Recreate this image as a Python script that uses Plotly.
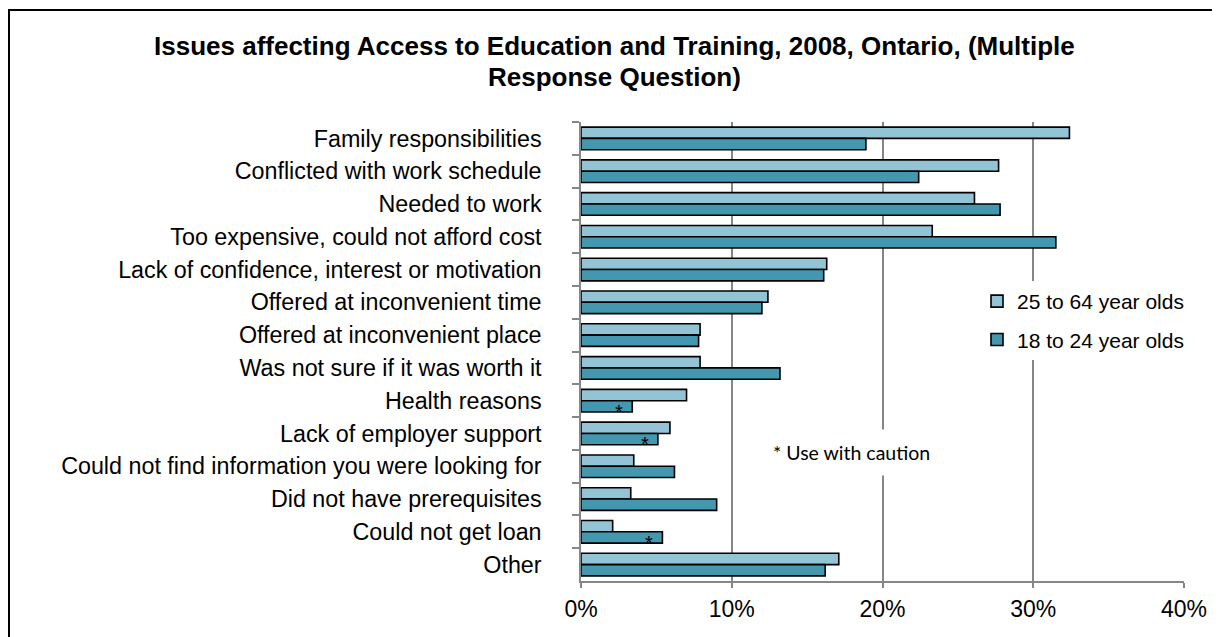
import plotly.graph_objects as go

categories = [
    "Family responsibilities",
    "Conflicted with work schedule",
    "Needed to work",
    "Too expensive, could not afford cost",
    "Lack of confidence, interest or motivation",
    "Offered at inconvenient time",
    "Offered at inconvenient place",
    "Was not sure if it was worth it",
    "Health reasons",
    "Lack of employer support",
    "Could not find information you were looking for",
    "Did not have prerequisites",
    "Could not get loan",
    "Other",
]
adults_25_64 = [32.4, 27.7, 26.1, 23.3, 16.3, 12.4, 7.9, 7.9, 7.0, 5.9, 3.5, 3.3, 2.1, 17.1]
youth_18_24 = [18.9, 22.4, 27.8, 31.5, 16.1, 12.0, 7.8, 13.2, 3.4, 5.1, 6.2, 9.0, 5.4, 16.2]
caution_18_24 = [False, False, False, False, False, False, False, False,
                 True, True, False, False, True, False]
series_names = ["25 to 64 year olds", "18 to 24 year olds"]
x_ticks = [0, 10, 20, 30, 40]
x_tick_labels = ["0%", "10%", "20%", "30%", "40%"]

FONT = "Liberation Sans, Arial, sans-serif"
GRAY = "#868686"
LIGHT = "#92C4D5"
DARK = "#4397AE"

# The page body has an 8px margin; the figure is sized to fill the rest of the window.
OFF = 8
W, H = 1220 - OFF, 637 - OFF
L, T = 581 - OFF, 122 - OFF
R = W - (1184 - OFF)
B = H - (581 - OFF)
PW, PH = W - L - R, H - T - B


def px(x):
    """page pixel x -> paper coordinate"""
    return (x - OFF - L) / PW


def py(y):
    """page pixel y -> paper coordinate"""
    return (H - B - (y - OFF)) / PH


fig = go.Figure()
fig.add_trace(go.Bar(
    y=categories, x=adults_25_64, orientation="h", name=series_names[0],
    legendgroup="a", marker=dict(color=LIGHT, line=dict(color="black", width=1.6)),
))
fig.add_trace(go.Bar(
    y=categories, x=youth_18_24, orientation="h", name=series_names[1],
    legendgroup="b", marker=dict(color=DARK, line=dict(color="black", width=1.6)),
))

annotations = []
for cat, val, flag in zip(categories, youth_18_24, caution_18_24):
    if flag:
        annotations.append(dict(
            x=val, y=cat, xref="x", yref="y", text="*", showarrow=False,
            xshift=-13, yshift=-11, font=dict(family=FONT, size=20, color="black"),
        ))

annotations += [
    dict(x=px(614), y=py(46), xref="paper", yref="paper", xanchor="center", yanchor="middle",
         text="<b>Issues affecting Access to Education and Training, 2008, Ontario, (Multiple</b>",
         showarrow=False, font=dict(family=FONT, size=26, color="black")),
    dict(x=px(614), y=py(77), xref="paper", yref="paper", xanchor="center", yanchor="middle",
         text="<b>Response Question)</b>",
         showarrow=False, font=dict(family=FONT, size=26, color="black")),
    dict(x=px(851), y=py(452), xref="paper", yref="paper", xanchor="center", yanchor="middle",
         text="* Use with caution", showarrow=False, bgcolor="white", borderpad=11,
         font=dict(family="Lato, Open Sans, sans-serif", size=19.5, color="black")),
]

fig.update_layout(
    width=W, height=H,
    margin=dict(l=L, r=R, t=T, b=B, autoexpand=False),
    paper_bgcolor="white", plot_bgcolor="white",
    barmode="group", bargap=0.31, bargroupgap=0,
    font=dict(family=FONT, color="black"),
    showlegend=True,
    legend=dict(
        x=px(977), y=py(281), xanchor="left", yanchor="top",
        bgcolor="white", borderwidth=0, font=dict(family=FONT, size=21, color="black"),
        traceorder="grouped", tracegroupgap=8, itemwidth=30,
    ),
    annotations=annotations,
    shapes=[dict(type="rect", xref="paper", yref="paper",
                 x0=px(9), x1=px(1240), y0=py(680), y1=py(10),
                 line=dict(color="black", width=2), fillcolor="rgba(0,0,0,0)", layer="above")],
)
fig.update_xaxes(
    range=[0, 40], tickvals=x_ticks, ticktext=x_tick_labels,
    showgrid=True, gridcolor=GRAY, gridwidth=1.5, zeroline=False,
    showline=True, linecolor=GRAY, linewidth=1.5,
    ticks="outside", ticklen=5, tickcolor=GRAY, tickwidth=1.5,
    tickfont=dict(family=FONT, size=23, color="black"), ticklabelstandoff=2,
)
fig.update_yaxes(
    type="category", autorange="reversed", tickson="boundaries",
    showgrid=False, showline=True, linecolor=GRAY, linewidth=1.5,
    ticks="outside", ticklen=7, tickcolor=GRAY, tickwidth=1.5,
    tickfont=dict(family=FONT, size=23.3, color="black"), ticklabelstandoff=33,
)

fig.write_html("out.html")
